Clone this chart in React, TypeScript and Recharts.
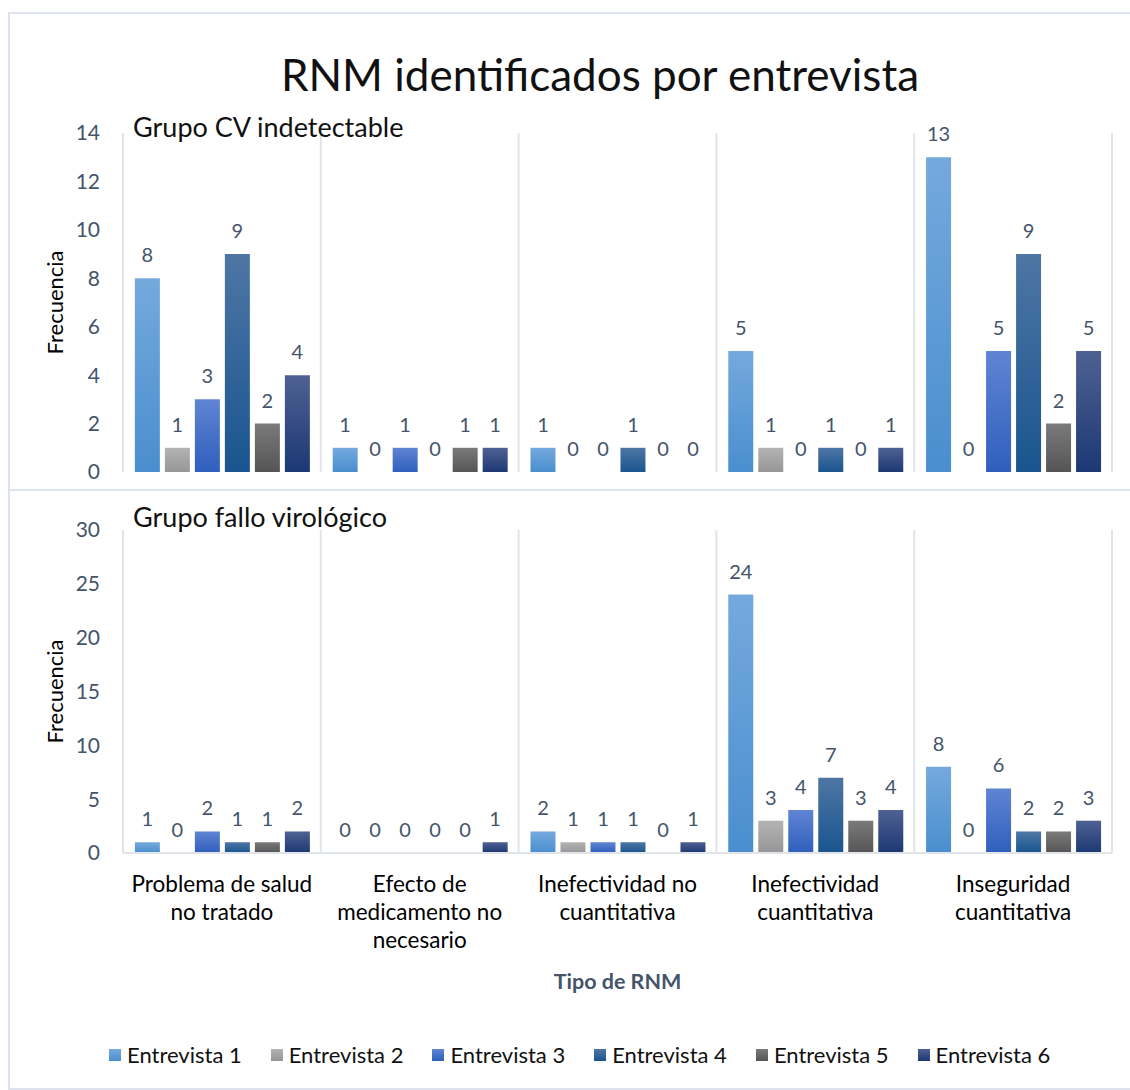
import { Bar, BarChart, CartesianGrid, LabelList, XAxis, YAxis } from "recharts";

const categories = [
  "Problema de salud\nno tratado",
  "Efecto de\nmedicamento no\nnecesario",
  "Inefectividad no\ncuantitativa",
  "Inefectividad\ncuantitativa",
  "Inseguridad\ncuantitativa",
];

const seriesNames = [
  "Entrevista 1",
  "Entrevista 2",
  "Entrevista 3",
  "Entrevista 4",
  "Entrevista 5",
  "Entrevista 6",
];

// Grupo CV indetectable, one array per entrevista (values per category)
const cvE1 = [8, 1, 1, 5, 13];
const cvE2 = [1, 0, 0, 1, 0];
const cvE3 = [3, 1, 0, 0, 5];
const cvE4 = [9, 0, 1, 1, 9];
const cvE5 = [2, 1, 0, 0, 2];
const cvE6 = [4, 1, 0, 1, 5];

// Grupo fallo virológico
const fvE1 = [1, 0, 2, 24, 8];
const fvE2 = [0, 0, 1, 3, 0];
const fvE3 = [2, 0, 1, 4, 6];
const fvE4 = [1, 0, 1, 7, 2];
const fvE5 = [1, 0, 0, 3, 2];
const fvE6 = [2, 1, 1, 4, 3];

const cvTicks = [0, 2, 4, 6, 8, 10, 12, 14];
const fvTicks = [0, 5, 10, 15, 20, 25, 30];

// top / bottom gradient stops
const gradients = [
  ["#74a9dd", "#4a8ecf"],
  ["#b3b3b3", "#969696"],
  ["#6084d3", "#2f5fbd"],
  ["#4e76a4", "#19558f"],
  ["#7a7a7a", "#555555"],
  ["#4f6193", "#1c3873"],
];

const FONT = "Lato, 'Open Sans', sans-serif";
const AXIS_TEXT = "#44546a";
const GRID = "#e0e5ec";

function buildRows(series: number[][]) {
  return categories.map((name, i) => {
    const row: Record<string, string | number> = { name };
    series.forEach((vals, s) => {
      row[`e${s + 1}`] = vals[i];
    });
    return row;
  });
}

const cvData = buildRows([cvE1, cvE2, cvE3, cvE4, cvE5, cvE6]);
const fvData = buildRows([fvE1, fvE2, fvE3, fvE4, fvE5, fvE6]);

// gridlines sit on the category boundaries, not the centres
// eslint-disable-next-line @typescript-eslint/no-explicit-any
const boundaryLines = ({ offset }: any) =>
  Array.from({ length: categories.length + 1 }, (_, i) => offset.left + (i * offset.width) / categories.length);

// eslint-disable-next-line @typescript-eslint/no-explicit-any
function CategoryTick({ x, y, payload }: any) {
  const lines = String(payload.value).split("\n");
  return (
    <text x={x} y={y} textAnchor="middle" fill="#000" fontSize={22.5} fontFamily={FONT}>
      {lines.map((line, i) => (
        <tspan key={i} x={x} dy={i === 0 ? 31 : 28}>
          {line}
        </tspan>
      ))}
    </text>
  );
}

// value labels, also drawn for zero-height bars
// eslint-disable-next-line @typescript-eslint/no-explicit-any
function ValueLabel({ x, y, width, value }: any) {
  if (value == null) return null;
  return (
    <text
      x={Number(x) + Number(width) / 2}
      y={Number(y) - 16}
      textAnchor="middle"
      fill={AXIS_TEXT}
      fontSize={20}
      fontFamily={FONT}
    >
      {value}
    </text>
  );
}

function Gradients({ prefix }: { prefix: string }) {
  return (
    <defs>
      {gradients.map(([top, bottom], i) => (
        <linearGradient key={i} id={`${prefix}${i}`} x1="0" y1="0" x2="0" y2="1">
          <stop offset="0%" stopColor={top} />
          <stop offset="100%" stopColor={bottom} />
        </linearGradient>
      ))}
    </defs>
  );
}

function Panel({
  data,
  ticks,
  prefix,
  showCategories,
  height,
  margin,
}: {
  data: Record<string, string | number>[];
  ticks: number[];
  prefix: string;
  showCategories: boolean;
  height: number;
  margin: { top: number; right: number; bottom: number; left: number };
}) {
  return (
    <BarChart
      width={1130}
      height={height}
      data={data}
      margin={margin}
      barGap={5}
      barCategoryGap="6%"
      style={{ fontFamily: FONT }}
    >
      <Gradients prefix={prefix} />
      <CartesianGrid
        horizontal={false}
        stroke={GRID}
        strokeWidth={2}
        verticalCoordinatesGenerator={boundaryLines}
      />
      <XAxis
        dataKey="name"
        hide={!showCategories}
        axisLine={{ stroke: GRID, strokeWidth: 2 }}
        tickLine={false}
        interval={0}
        height={140}
        tick={<CategoryTick />}
        label={{
          value: "Tipo de RNM",
          position: "insideBottom",
          offset: 4,
          fill: AXIS_TEXT,
          fontSize: 21.5,
          fontWeight: 700,
        }}
      />
      <YAxis
        width={123}
        domain={[ticks[0], ticks[ticks.length - 1]]}
        ticks={ticks}
        interval={0}
        axisLine={false}
        tickLine={false}
        tickMargin={17}
        tick={{ fill: AXIS_TEXT, fontSize: 21 }}
        label={{ value: "Frecuencia", angle: -90, position: "center", dx: -6, fill: "#000", fontSize: 22 }}
      />
      {seriesNames.map((name, i) => (
        <Bar
          key={name}
          dataKey={`e${i + 1}`}
          name={name}
          fill={`url(#${prefix}${i})`}
          minPointSize={0.01}
          isAnimationActive={false}
        >
          <LabelList dataKey={`e${i + 1}`} content={<ValueLabel />} />
        </Bar>
      ))}
    </BarChart>
  );
}

export default function App() {
  return (
    <div
      style={{
        position: "absolute",
        left: 0,
        top: 0,
        width: 1130,
        height: 1090,
        overflow: "hidden",
        background: "#fff",
        fontFamily: FONT,
      }}
    >
      {/* chart frame */}
      <div
        style={{
          position: "absolute",
          left: 8,
          top: 12,
          width: 1200,
          height: 1074,
          border: "2px solid #dce3ee",
        }}
      />
      <div style={{ position: "absolute", left: 8, top: 489, width: 1200, height: 2, background: "#dce3ee" }} />

      <div style={{ position: "absolute", left: 0, top: 0 }}>
        <Panel
          data={cvData}
          ticks={cvTicks}
          prefix="cvGrad"
          showCategories={false}
          height={490}
          margin={{ top: 133, right: 18, bottom: 18, left: 0 }}
        />
      </div>
      <div style={{ position: "absolute", left: 0, top: 490 }}>
        <Panel
          data={fvData}
          ticks={fvTicks}
          prefix="fvGrad"
          showCategories
          height={600}
          margin={{ top: 40, right: 18, bottom: 97, left: 0 }}
        />
      </div>

      <div
        style={{
          position: "absolute",
          left: 600,
          top: 51,
          transform: "translateX(-50%)",
          whiteSpace: "nowrap",
          fontSize: 44,
          lineHeight: "46px",
          color: "#111",
        }}
      >
        RNM identificados por entrevista
      </div>
      <div style={{ position: "absolute", left: 133, top: 112, fontSize: 27, lineHeight: "30px", color: "#111" }}>
        Grupo CV indetectable
      </div>
      <div style={{ position: "absolute", left: 133, top: 502, fontSize: 27, lineHeight: "30px", color: "#111" }}>
        Grupo fallo virológico
      </div>

      <div
        style={{
          position: "absolute",
          left: 109,
          top: 1042,
          display: "flex",
          gap: 29,
          fontSize: 22,
          lineHeight: "26px",
          color: "#111",
        }}
      >
        {seriesNames.map((name, i) => (
          <div key={name} style={{ display: "flex", alignItems: "center", gap: 6, whiteSpace: "nowrap" }}>
            <span
              style={{
                width: 12,
                height: 12,
                background: `linear-gradient(${gradients[i][0]}, ${gradients[i][1]})`,
              }}
            />
            {name}
          </div>
        ))}
      </div>
    </div>
  );
}
